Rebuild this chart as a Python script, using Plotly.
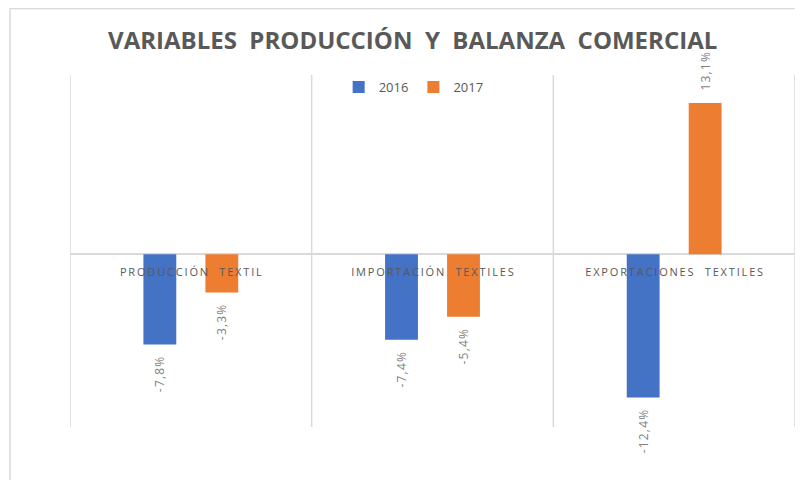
import plotly.graph_objects as go

categories = ["PRODUCCIÓN  TEXTIL", "IMPORTACIÓN  TEXTILES", "EXPORTACIONES  TEXTILES"]
series_names = ["2016", "2017"]
values_2016 = [-7.8, -7.4, -12.4]
values_2017 = [-3.3, -5.4, 13.1]
colors = ["#4472C4", "#ED7D31"]

GRAY = "#595959"
LABEL_GRAY = "#7F7F7F"
LINE = "#D9D9D9"
THIN = "\u2009"
HAIR = "\u200a"
NB = "\u00a0"


def spaced(s, sep=THIN):
    return sep.join(list(s))


def fmt(v):
    return f"{v:.1f}".replace(".", ",") + "%"


def label(v):
    pad = NB * 3
    txt = spaced(fmt(v), HAIR)
    # rotated -90: text reads bottom-to-top; pad the side facing the bar
    return pad + txt if v >= 0 else txt + pad


cats = [spaced(c) for c in categories]

fig = go.Figure()
for name, vals, col in zip(series_names, [values_2016, values_2017], colors):
    fig.add_trace(go.Bar(
        x=cats, y=vals, name=name,
        marker=dict(color=col, line=dict(width=0)),
        text=[label(v) for v in vals],
        textposition="outside",
        textangle=-90,
        constraintext="none",
        textfont=dict(family="Open Sans", size=12, color=LABEL_GRAY),
        cliponaxis=False,
    ))

y_lo, y_hi = -14.95, 15.52
zero_pos = (0 - y_lo) / (y_hi - y_lo)

# vertical separators at category boundaries
grid_shapes = [
    dict(type="line", xref="x", yref="paper", x0=i - 0.5, x1=i - 0.5, y0=0, y1=1,
         line=dict(color=LINE, width=1.5), layer="below")
    for i in range(len(categories) + 1)
]

frame_shapes = [
    dict(type="line", xref="paper", yref="paper", x0=-0.0828, x1=1.02, y0=1.1889, y1=1.1889,
         line=dict(color=LINE, width=1.5)),
    dict(type="line", xref="paper", yref="paper", x0=-0.0828, x1=-0.0828, y0=1.1889, y1=-0.16,
         line=dict(color=LINE, width=1.5)),
]

fig.update_layout(
    width=795, height=472,
    margin=dict(l=62, r=8, t=67, b=53),
    paper_bgcolor="white", plot_bgcolor="white",
    barmode="group", bargap=0.487, bargroupgap=0.47,
    title=dict(text="VARIABLES  PRODUCCIÓN  Y  BALANZA  COMERCIAL",
               x=0.509, xanchor="center", y=0.930, yanchor="middle",
               xref="container", yref="container",
               font=dict(family="Open Sans", size=24, color=GRAY, weight="bold")),
    legend=dict(orientation="h", x=0.474, xanchor="center", y=0.966, yanchor="middle",
                font=dict(family="Open Sans", size=13, color=GRAY),
                bgcolor="rgba(0,0,0,0)", itemwidth=30, tracegroupgap=0),
    showlegend=True,
    xaxis=dict(type="category", range=[-0.5, 2.5],
               showgrid=False, ticks="", showline=False, zeroline=False,
               anchor="free", position=zero_pos,
               ticklabelstandoff=10,
               tickfont=dict(family="Open Sans", size=11, color=GRAY)),
    yaxis=dict(range=[y_lo, y_hi], showgrid=False, showticklabels=False,
               zeroline=True, zerolinecolor=LINE, zerolinewidth=1.5, ticks=""),
    shapes=grid_shapes + frame_shapes,
)

fig.write_html("out.html")
